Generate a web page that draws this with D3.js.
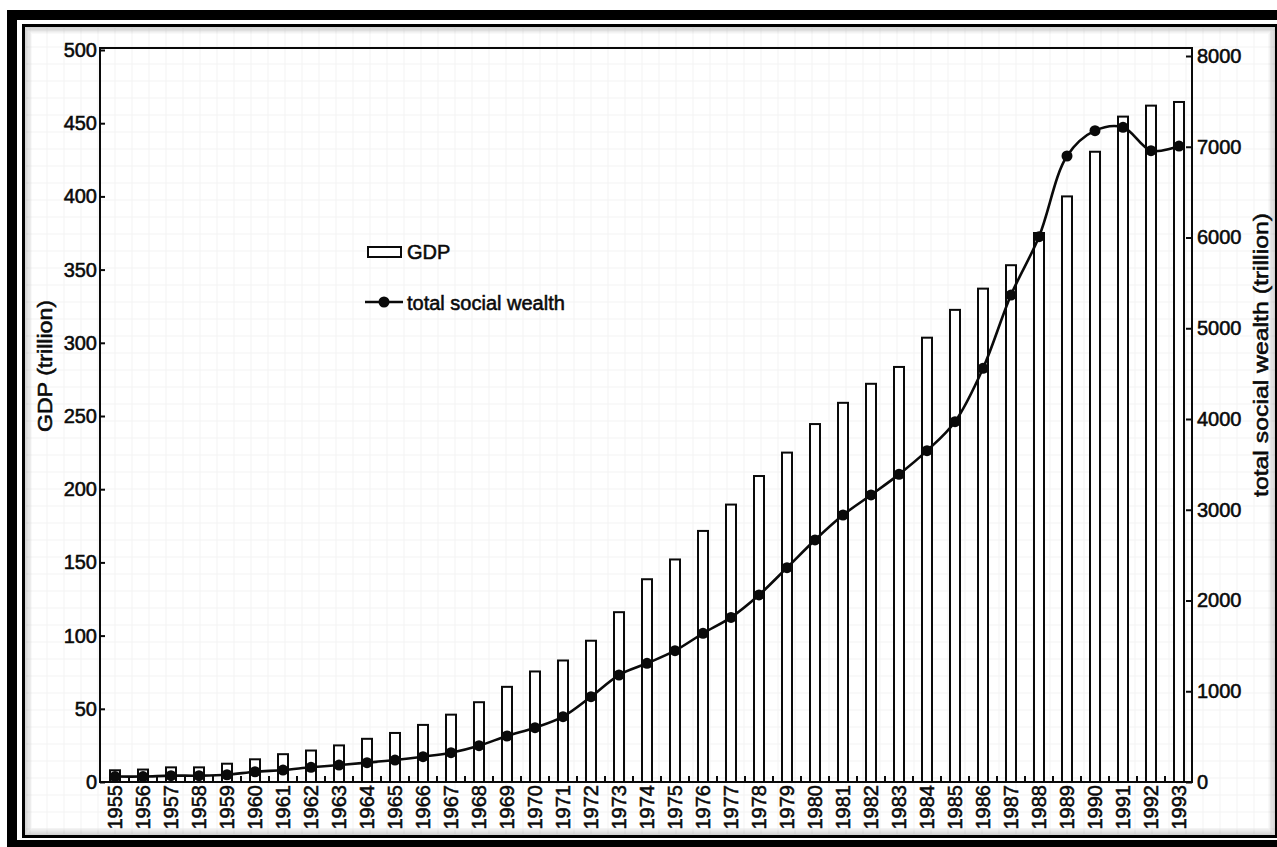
<!DOCTYPE html>
<html>
<head>
<meta charset="utf-8">
<script src="https://cdn.jsdelivr.net/npm/d3@7"></script>
<style>
  body { margin: 0; background: #fff; }
  svg { display: block; font-family: "Liberation Sans", Arial, sans-serif; }
  .lbl { font-size: 20px; fill: #0a0a0a; stroke: #0a0a0a; stroke-width: 0.55px; }
</style>
</head>
<body>
<svg id="chart" width="1277" height="847"></svg>
<script>
// values
var years = [1955, 1956, 1957, 1958, 1959, 1960, 1961, 1962, 1963, 1964,
  1965, 1966, 1967, 1968, 1969, 1970, 1971, 1972, 1973, 1974,
  1975, 1976, 1977, 1978, 1979, 1980, 1981, 1982, 1983, 1984,
  1985, 1986, 1987, 1988, 1989, 1990, 1991, 1992, 1993];
// GDP, trillion (left axis)
var gdp = [8, 8.5, 10, 10, 12.5, 15.5, 19, 21.5, 25, 29.5,
  33.5, 39, 46, 54.5, 65, 75.5, 83, 96.5, 116, 138.5,
  152, 171.5, 189.5, 209, 225, 244.5, 259, 272, 283.5, 303.5,
  322.5, 337, 353, 375, 400, 430.5, 454.5, 462, 464.5];
// total social wealth, trillion (right axis)
var wealth = [60, 60, 70, 70, 80, 113, 132, 162, 187, 213,
  242, 279, 323, 400, 507, 598, 720, 940, 1179, 1308,
  1447, 1638, 1814, 2061, 2362, 2667, 2942, 3163, 3390, 3651,
  3970, 4558, 5366, 6009, 6898, 7177, 7214, 6957, 7008];
var gdpTicks = [0, 50, 100, 150, 200, 250, 300, 350, 400, 450, 500];
var wealthTicks = [0, 1000, 2000, 3000, 4000, 5000, 6000, 7000, 8000];

var W = 1277, H = 847;
var plotL = 100, plotR = 1192, plotT = 48, plotB = 782;

var svg = d3.select("#chart");

// faint paper grid of the scan
var grid = svg.append("g").attr("stroke", "#f3f3f3").attr("stroke-width", 1);
for (var gx = 30; gx < W; gx += 17) {
  grid.append("line").attr("x1", gx).attr("x2", gx).attr("y1", 28).attr("y2", 834);
}
for (var gy = 30; gy < 836; gy += 17) {
  grid.append("line").attr("x1", 26).attr("x2", W).attr("y1", gy).attr("y2", gy);
}

// frame around the screenshot
svg.append("rect").attr("x", 12).attr("y", 15).attr("width", 1290).attr("height", 830)
  .attr("fill", "none").attr("stroke", "#000").attr("stroke-width", 10);
svg.append("rect").attr("x", 23.5).attr("y", 25.5).attr("width", 1253).attr("height", 811)
  .attr("fill", "none").attr("stroke", "#000").attr("stroke-width", 3);
for (var k = 1; k <= 8; k++) {
  svg.append("rect").attr("x", 23.5 + k).attr("y", 25.5 + k)
    .attr("width", 1253 - 2 * k).attr("height", 811 - 2 * k)
    .attr("fill", "none").attr("stroke", "#000")
    .attr("stroke-opacity", 0.22 * (1 - k / 9)).attr("stroke-width", 1);
}

var x = d3.scaleBand().domain(years).range([plotL + 1, plotR + 1]).padding(0);
var yL = d3.scaleLinear().domain([0, 500]).range([plotB, 50]);
var yR = d3.scaleLinear().domain([0, 8000]).range([plotB, 56]);
function cx(d) { return x(d) + x.bandwidth() / 2; }

// bars
svg.append("g").selectAll("rect")
  .data(years)
  .enter()
  .append("rect")
  .attr("x", function(d) { return cx(d) - 5; })
  .attr("y", function(d, i) { return yL(gdp[i]); })
  .attr("width", 10)
  .attr("height", function(d, i) { return yL(0) - yL(gdp[i]); })
  .attr("fill", "#fff")
  .attr("stroke", "#0a0a0a")
  .attr("stroke-width", 2);

// plot box
svg.append("rect").attr("x", plotL).attr("y", plotT)
  .attr("width", plotR - plotL).attr("height", plotB - plotT)
  .attr("fill", "none").attr("stroke", "#0a0a0a").attr("stroke-width", 2);

// wealth line
var line = d3.line()
  .x(function(d) { return cx(d); })
  .y(function(d, i) { return yR(wealth[i]); })
  .curve(d3.curveCatmullRom.alpha(0.5));
svg.append("path").datum(years)
  .attr("d", line)
  .attr("fill", "none").attr("stroke", "#0a0a0a").attr("stroke-width", 2.6);
svg.append("g").selectAll("circle")
  .data(years)
  .enter()
  .append("circle")
  .attr("cx", function(d) { return cx(d); })
  .attr("cy", function(d, i) { return yR(wealth[i]); })
  .attr("r", 5.5)
  .attr("fill", "#0a0a0a");

// left axis
var gl = svg.append("g").attr("transform", "translate(" + plotL + ",0)")
  .call(d3.axisLeft(yL).tickValues(gdpTicks).tickSizeInner(-5).tickSizeOuter(0).tickPadding(3));
gl.select(".domain").remove();
gl.selectAll("line").attr("stroke", "#0a0a0a").attr("stroke-width", 2);
gl.selectAll("text").attr("class", "lbl").attr("font-size", null).attr("font-family", null);

// right axis
var gr = svg.append("g").attr("transform", "translate(" + plotR + ",0)")
  .call(d3.axisRight(yR).tickValues(wealthTicks).tickFormat(d3.format("d"))
    .tickSizeInner(-6).tickSizeOuter(0).tickPadding(5));
gr.select(".domain").remove();
gr.selectAll("line").attr("stroke", "#0a0a0a").attr("stroke-width", 2);
gr.selectAll("text").attr("class", "lbl").attr("font-size", null).attr("font-family", null);

// bottom axis: rotated years, small ticks between the bars
var gb = svg.append("g").attr("transform", "translate(0," + plotB + ")")
  .call(d3.axisBottom(x).tickSize(0).tickPadding(0));
gb.select(".domain").remove();
gb.selectAll("text")
  .attr("class", "lbl").attr("font-size", null).attr("font-family", null)
  .attr("transform", "rotate(-90)")
  .attr("text-anchor", "end")
  .attr("x", -3).attr("y", 0).attr("dy", "0.36em");
svg.append("g").selectAll("line")
  .data(years.slice(1))
  .enter()
  .append("line")
  .attr("x1", function(d) { return x(d); })
  .attr("x2", function(d) { return x(d); })
  .attr("y1", plotB).attr("y2", plotB - 6)
  .attr("stroke", "#0a0a0a").attr("stroke-width", 2);

// axis titles
svg.append("text").attr("class", "lbl")
  .attr("transform", "translate(45,366) rotate(-90)")
  .attr("text-anchor", "middle").attr("dy", "0.35em")
  .attr("textLength", 132).attr("lengthAdjust", "spacingAndGlyphs")
  .text("GDP (trillion)");
svg.append("text").attr("class", "lbl")
  .attr("transform", "translate(1261,355) rotate(-90)")
  .attr("text-anchor", "middle").attr("dy", "0.35em")
  .attr("textLength", 284).attr("lengthAdjust", "spacingAndGlyphs")
  .text("total social wealth (trillion)");

// legend
var lg = svg.append("g");
lg.append("rect").attr("x", 368).attr("y", 247).attr("width", 33).attr("height", 10)
  .attr("fill", "#fff").attr("stroke", "#0a0a0a").attr("stroke-width", 2);
lg.append("text").attr("class", "lbl").attr("x", 407).attr("y", 252).attr("dy", "0.35em").text("GDP");
lg.append("line").attr("x1", 365).attr("x2", 403).attr("y1", 302).attr("y2", 302)
  .attr("stroke", "#0a0a0a").attr("stroke-width", 2.6);
lg.append("circle").attr("cx", 384).attr("cy", 302).attr("r", 5.5).attr("fill", "#0a0a0a");
lg.append("text").attr("class", "lbl").attr("x", 407).attr("y", 303).attr("dy", "0.35em").text("total social wealth");
</script>
</body>
</html>
